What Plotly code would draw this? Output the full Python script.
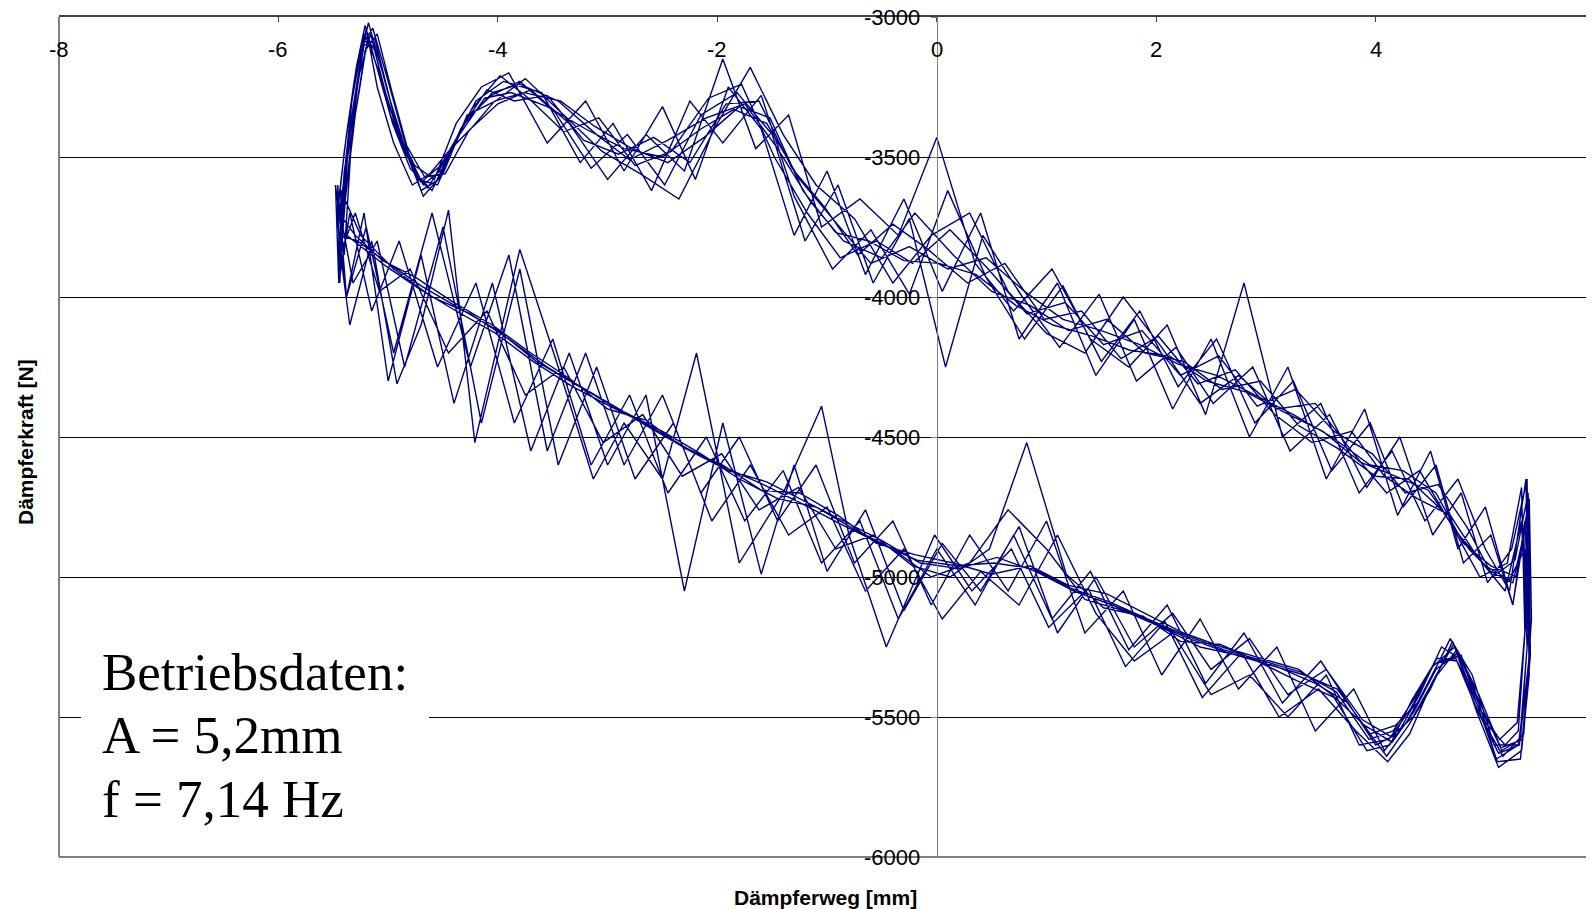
import plotly.graph_objects as go

# ---- data: damper displacement [mm] and damper force [N], cycle by cycle ----
weg_1 = [-5.45,-5.40,-5.30,-5.22,-5.12,-4.98,-4.85,-4.70,-4.52,-4.30,-4.05,-3.80,-3.45,-3.10,-2.80,-2.45,-2.10,-1.75,-1.45,-1.15,-0.85,-0.50,-0.20,0.15,0.50,0.85,1.20,1.55,1.90,2.25,2.60,2.95,3.30,3.65,4.00,4.30,4.60,4.85,5.05,5.25,5.35,5.38,5.32,
         5.15,4.95,4.75,4.55,4.35,4.15,3.90,3.60,3.30,2.95,2.60,2.25,1.90,1.55,1.20,0.85,0.50,0.15,-0.20,-0.55,-0.90,-1.25,-1.60,-1.95,-2.30,-2.65,-3.00,-3.35,-3.70,-4.05,-4.40,-4.75,-5.05,-5.30,-5.45]
kraft_1 = [-3850,-3550,-3300,-3060,-3120,-3350,-3480,-3590,-3530,-3380,-3270,-3240,-3300,-3420,-3510,-3440,-3360,-3310,-3470,-3660,-3800,-3860,-3700,-3850,-3980,-4030,-4120,-4080,-4200,-4230,-4330,-4300,-4460,-4540,-4640,-4650,-4760,-4900,-4980,-5020,-4850,-5250,-5580,
           -5620,-5450,-5270,-5330,-5480,-5590,-5530,-5420,-5330,-5290,-5250,-5200,-5130,-5060,-5030,-4960,-4990,-4950,-4920,-4880,-4780,-4700,-4690,-4600,-4540,-4440,-4400,-4290,-4200,-4100,-4020,-3930,-3870,-3780,-3700]

weg_2 = [-5.42,-5.35,-5.25,-5.18,-5.05,-4.90,-4.75,-4.60,-4.40,-4.20,-3.95,-3.60,-3.25,-2.95,-2.60,-2.25,-1.95,-1.60,-1.30,-0.95,-0.60,-0.25,0.10,0.45,0.80,1.15,1.50,1.85,2.20,2.55,2.90,3.25,3.60,3.95,4.25,4.55,4.80,5.05,5.25,5.38,5.40,5.30,
         5.10,4.90,4.70,4.50,4.30,4.10,3.80,3.50,3.15,2.80,2.45,2.10,1.75,1.40,1.05,0.70,0.35,0.00,-0.35,-0.70,-1.05,-1.40,-1.75,-2.10,-2.45,-2.80,-3.15,-3.50,-3.85,-4.20,-4.55,-4.90,-5.15,-5.35,-5.45]
kraft_2 = [-3700,-3400,-3150,-3020,-3200,-3420,-3560,-3620,-3450,-3300,-3230,-3270,-3520,-3380,-3620,-3300,-3450,-3280,-3640,-3900,-3760,-3990,-3620,-3930,-4150,-3960,-4230,-4050,-4320,-4150,-4450,-4300,-4620,-4450,-4750,-4600,-4950,-4850,-5100,-4780,-5300,-5600,
           -5650,-5400,-5230,-5400,-5530,-5640,-5480,-5300,-5450,-5200,-5380,-5100,-5260,-4980,-5150,-4850,-5100,-4900,-5150,-4800,-4950,-4620,-4800,-4500,-4700,-4350,-4600,-4150,-4450,-3950,-4250,-3800,-4050,-3700,-3950]

weg_3 = [-5.48,-5.40,-5.32,-5.22,-5.12,-4.98,-4.82,-4.68,-4.50,-4.28,-4.02,-3.75,-3.40,-3.05,-2.70,-2.35,-2.00,-1.70,-1.40,-1.10,-0.75,-0.40,-0.05,0.30,0.65,1.00,1.35,1.70,2.05,2.40,2.75,3.10,3.45,3.80,4.10,4.40,4.70,4.95,5.20,5.33,5.36,5.30,
         5.18,5.00,4.80,4.60,4.40,4.20,4.00,3.75,3.45,3.10,2.75,2.40,2.05,1.70,1.35,1.00,0.65,0.30,-0.05,-0.40,-0.75,-1.10,-1.45,-1.80,-2.15,-2.50,-2.85,-3.20,-3.55,-3.90,-4.25,-4.60,-4.95,-5.25,-5.43]
kraft_3 = [-3600,-3850,-3350,-3100,-3080,-3300,-3500,-3640,-3560,-3350,-3300,-3220,-3350,-3480,-3560,-3650,-3380,-3180,-3420,-3600,-3720,-3950,-3780,-3700,-3980,-4130,-4200,-4000,-4180,-4380,-4280,-4400,-4380,-4560,-4700,-4620,-4820,-5000,-4950,-4680,-5200,-5550,
           -5600,-5520,-5300,-5250,-5420,-5560,-5600,-5450,-5380,-5320,-5280,-5250,-5180,-5120,-5080,-4900,-4760,-4950,-5000,-4900,-4830,-4750,-4720,-4650,-4560,-4480,-4410,-4330,-4250,-4150,-4060,-4000,-3900,-3780,-3620]

weg_4 = [-5.44,-5.38,-5.28,-5.20,-5.10,-4.95,-4.78,-4.62,-4.45,-4.25,-4.00,-3.70,-3.35,-3.00,-2.65,-2.30,-1.95,-1.65,-1.35,-1.05,-0.70,-0.35,0.00,0.35,0.70,1.05,1.40,1.75,2.10,2.45,2.80,3.15,3.50,3.85,4.15,4.45,4.75,5.00,5.22,5.37,5.40,5.33,
         5.12,4.92,4.72,4.52,4.32,4.12,3.85,3.55,3.20,2.85,2.50,2.15,1.80,1.45,1.10,0.75,0.40,0.05,-0.30,-0.65,-1.00,-1.35,-1.70,-2.05,-2.40,-2.75,-3.10,-3.45,-3.80,-4.15,-4.50,-4.85,-5.10,-5.32,-5.46]
kraft_4 = [-3900,-3600,-3250,-3040,-3250,-3450,-3600,-3560,-3480,-3400,-3310,-3260,-3380,-3580,-3420,-3550,-3150,-3470,-3350,-3750,-3650,-3780,-3430,-3880,-4050,-3900,-4150,-4250,-4100,-4420,-3950,-4500,-4380,-4700,-4550,-4800,-4650,-4900,-5050,-4650,-5350,-5620,
           -5680,-5480,-5250,-5320,-5470,-5580,-5600,-5350,-5500,-5350,-5420,-5200,-5300,-5130,-4850,-5100,-4980,-5150,-4900,-5050,-4750,-4850,-4600,-4800,-4450,-4650,-4250,-4600,-3900,-4450,-3750,-4250,-3800,-3950,-3650]

weg_5 = [-5.46,-5.36,-5.26,-5.16,-5.02,-4.88,-4.72,-4.55,-4.35,-4.12,-3.88,-3.55,-3.20,-2.85,-2.50,-2.15,-1.85,-1.55,-1.25,-0.95,-0.60,-0.25,0.10,0.45,0.80,1.15,1.50,1.85,2.20,2.55,2.90,3.25,3.60,3.95,4.25,4.55,4.80,5.05,5.28,5.40,5.42,5.35,
         5.16,4.96,4.78,4.58,4.38,4.18,3.95,3.65,3.35,3.00,2.65,2.30,1.95,1.60,1.25,0.90,0.55,0.20,-0.15,-0.50,-0.85,-1.20,-1.55,-1.90,-2.25,-2.60,-2.95,-3.30,-3.65,-4.00,-4.35,-4.70,-5.00,-5.28,-5.44]
kraft_5 = [-3750,-3450,-3200,-3060,-3280,-3450,-3580,-3600,-3420,-3290,-3270,-3320,-3400,-3470,-3500,-3400,-3330,-3380,-3580,-3720,-3880,-3820,-3900,-3860,-3980,-4080,-4120,-4170,-4240,-4280,-4350,-4420,-4500,-4600,-4620,-4700,-4880,-4960,-5000,-4720,-5150,-5560,
           -5640,-5500,-5280,-5300,-5450,-5530,-5560,-5400,-5350,-5310,-5270,-5220,-5160,-5100,-5050,-4980,-4930,-4970,-4950,-4870,-4800,-4730,-4660,-4620,-4550,-4470,-4390,-4310,-4230,-4120,-4040,-3960,-3880,-3800,-3780]

weg_6 = [-5.43,-5.37,-5.27,-5.19,-5.08,-4.92,-4.76,-4.58,-4.38,-4.15,-3.90,-3.55,-3.20,-2.85,-2.50,-2.20,-1.90,-1.60,-1.30,-1.00,-0.65,-0.30,0.05,0.40,0.75,1.10,1.45,1.80,2.15,2.50,2.85,3.20,3.55,3.90,4.20,4.50,4.75,5.00,5.25,5.36,5.41,5.31,
         5.08,4.88,4.68,4.48,4.28,4.08,3.80,3.45,3.10,2.75,2.40,2.05,1.70,1.35,1.00,0.65,0.30,-0.05,-0.40,-0.75,-1.10,-1.45,-1.80,-2.15,-2.50,-2.85,-3.20,-3.55,-3.90,-4.25,-4.60,-4.95,-5.20,-5.38,-5.47]
kraft_6 = [-3800,-3500,-3280,-3080,-3200,-3400,-3530,-3580,-3380,-3250,-3200,-3450,-3300,-3550,-3320,-3580,-3250,-3400,-3780,-3550,-3920,-3650,-3980,-3700,-4150,-3950,-4280,-4080,-4400,-4150,-4500,-4250,-4650,-4400,-4780,-4550,-4900,-4750,-5100,-4800,-5250,-5600,
           -5600,-5350,-5220,-5380,-5520,-5620,-5400,-5550,-5250,-5400,-5150,-5350,-5050,-5200,-4800,-5050,-4850,-5100,-4800,-4950,-4600,-4800,-4500,-4700,-4350,-4600,-4200,-4550,-3850,-4250,-3700,-4200,-3750,-4000,-3700]

weg_7 = [-5.45,-5.38,-5.29,-5.21,-5.11,-4.96,-4.80,-4.64,-4.46,-4.24,-3.98,-3.72,-3.40,-3.08,-2.75,-2.42,-2.08,-1.78,-1.48,-1.18,-0.88,-0.55,-0.22,0.12,0.47,0.82,1.17,1.52,1.87,2.22,2.57,2.92,3.27,3.62,3.97,4.27,4.57,4.83,5.07,5.27,5.39,5.41,5.34,
         5.14,4.94,4.74,4.54,4.34,4.14,3.88,3.55,3.20,2.85,2.50,2.15,1.80,1.45,1.10,0.75,0.40,0.05,-0.30,-0.65,-1.00,-1.30,-1.60,-1.95,-2.30,-2.65,-3.00,-3.35,-3.70,-4.05,-4.40,-4.70,-5.00,-5.22,-5.38,-5.46]
kraft_7 = [-3650,-3420,-3180,-3030,-3170,-3380,-3540,-3610,-3500,-3330,-3210,-3290,-3410,-3360,-3530,-3480,-3290,-3240,-3500,-3700,-3860,-3800,-3880,-3760,-3900,-4060,-4020,-4170,-4120,-4280,-4210,-4390,-4330,-4480,-4560,-4700,-4670,-4820,-5000,-4940,-4700,-5280,-5580,
           -5610,-5420,-5260,-5360,-5500,-5570,-5510,-5330,-5420,-5220,-5330,-5130,-5250,-5000,-5200,-4820,-5050,-4880,-5120,-4760,-4980,-4600,-4990,-4450,-5050,-4350,-4600,-4200,-4550,-3950,-4380,-3850,-4300,-3700,-4000,-3600]

weg_8 = [-5.44,-5.41,-5.33,-5.24,-5.14,-5.00,-4.86,-4.70,-4.54,-4.34,-4.10,-3.85,-3.55,-3.22,-2.90,-2.58,-2.25,-1.92,-1.62,-1.32,-1.02,-0.72,-0.40,-0.08,0.28,0.62,0.98,1.32,1.68,2.02,2.38,2.72,3.08,3.42,3.78,4.08,4.38,4.68,4.93,5.18,5.33,5.37,5.29,
         5.13,4.93,4.73,4.53,4.33,4.13,3.92,3.62,3.28,2.92,2.58,2.22,1.88,1.52,1.18,0.82,0.48,0.12,-0.22,-0.58,-0.92,-1.26,-1.62,-1.96,-2.32,-2.68,-3.04,-3.40,-3.75,-4.10,-4.45,-4.80,-5.08,-5.30,-5.44]
kraft_8 = [-3950,-3600,-3300,-3100,-3040,-3230,-3430,-3620,-3580,-3400,-3260,-3300,-3280,-3440,-3490,-3430,-3520,-3310,-3300,-3540,-3680,-3850,-3740,-3830,-3950,-3880,-4080,-4050,-4220,-4140,-4310,-4260,-4420,-4520,-4480,-4640,-4720,-4780,-4930,-5050,-4800,-5150,-5520,
           -5580,-5460,-5290,-5310,-5440,-5600,-5620,-5430,-5370,-5300,-5240,-5230,-5140,-5110,-4990,-4520,-4900,-5000,-4960,-4850,-4900,-4680,-4760,-4560,-4640,-4420,-4520,-4250,-4350,-4050,-4200,-3900,-3980,-3700,-3850]

weg_9 = [-5.46,-5.40,-5.31,-5.23,-5.13,-4.99,-4.84,-4.68,-4.50,-4.30,-4.06,-3.80,-3.48,-3.15,-2.82,-2.48,-2.15,-1.82,-1.50,-1.20,-0.90,-0.58,-0.25,0.08,0.42,0.78,1.12,1.48,1.82,2.18,2.52,2.88,3.22,3.58,3.92,4.22,4.52,4.78,5.02,5.24,5.38,5.40,5.32,
         5.11,4.91,4.71,4.51,4.31,4.11,3.82,3.48,3.12,2.78,2.42,2.08,1.72,1.38,1.02,0.68,0.32,-0.02,-0.46,-0.80,-1.05,-1.40,-1.80,-2.19,-2.50,-2.85,-3.13,-3.45,-3.80,-4.21,-4.45,-4.70,-4.92,-5.15,-5.35,-5.45]
kraft_9 = [-3700,-3480,-3230,-3080,-3110,-3320,-3470,-3600,-3540,-3370,-3280,-3230,-3340,-3540,-3420,-3600,-3350,-3270,-3420,-3800,-3600,-3950,-3720,-4250,-3780,-4000,-4180,-3990,-4300,-4180,-4380,-4250,-4550,-4420,-4680,-4500,-4850,-4700,-5020,-4900,-4650,-5300,-5650,
           -5660,-5440,-5240,-5380,-5560,-5660,-5550,-5400,-5500,-5270,-5430,-5160,-5320,-5040,-5180,-4900,-5050,-4850,-5250,-4850,-4390,-4700,-4950,-4200,-4650,-4450,-4650,-4250,-3830,-4520,-3690,-4100,-4310,-3800,-4100,-3800]

weg_10 = [-5.45,-5.39,-5.30,-5.21,-5.10,-4.97,-4.83,-4.67,-4.48,-4.27,-4.03,-3.76,-3.43,-3.12,-2.78,-2.45,-2.12,-1.80,-1.52,-1.22,-0.92,-0.62,-0.30,0.02,0.36,0.72,1.06,1.42,1.76,2.12,2.46,2.82,3.16,3.52,3.86,4.18,4.48,4.76,5.00,5.22,5.36,5.39,5.31,
          5.12,4.92,4.74,4.56,4.36,4.16,3.94,3.64,3.32,2.98,2.62,2.28,1.92,1.58,1.22,0.88,0.52,0.18,-0.18,-0.52,-0.88,-1.22,-1.58,-1.92,-2.28,-2.62,-2.98,-3.32,-3.68,-4.02,-4.38,-4.72,-5.02,-5.28,-5.44]
kraft_10 = [-3900,-3650,-3350,-3120,-3060,-3260,-3460,-3570,-3560,-3410,-3300,-3270,-3300,-3390,-3470,-3520,-3430,-3320,-3360,-3620,-3770,-3800,-3870,-3880,-3920,-4030,-4100,-4140,-4190,-4210,-4300,-4340,-4410,-4480,-4590,-4640,-4690,-4850,-4960,-5010,-4900,-5200,-5600,
            -5630,-5470,-5300,-5290,-5430,-5550,-5580,-5410,-5340,-5300,-5260,-5210,-5150,-5090,-5040,-4970,-4950,-4960,-4940,-4880,-4810,-4740,-4670,-4610,-4540,-4460,-4390,-4320,-4230,-4130,-4050,-3970,-3890,-3810,-3760]

x_ticks = [-8, -6, -4, -2, 0, 2, 4, 6]
x_ticktext = ["-8", "-6", "-4", "-2", "0", "2", "4", "6"]
y_ticks = [-6000, -5500, -5000, -4500, -4000, -3500, -3000]
y_ticktext = ["-6000", "-5500", "-5000", "-4500", "-4000", "-3500", "-3000"]

x_title = "Dämpferweg [mm]"
y_title = "Dämpferkraft [N]"
info_lines = ["Betriebsdaten:", "A = 5,2mm", "f = 7,14 Hz"]

# ---- figure ----
all_x = weg_1 + weg_2 + weg_3 + weg_4 + weg_5 + weg_6 + weg_7 + weg_8 + weg_9 + weg_10
all_y = kraft_1 + kraft_2 + kraft_3 + kraft_4 + kraft_5 + kraft_6 + kraft_7 + kraft_8 + kraft_9 + kraft_10

OFF = 8                      # page body margin in the browser
W, H = 1594 - OFF, 909 - OFF
ML, MR, MT, MB = 51, 0, 9, 52
X_MIN, X_MAX = -8, 5.99
plot_w = W - ML - MR
plot_h = H - MT - MB


def px(xs):  # screenshot x -> paper x
    return (xs - OFF - ML) / plot_w


def py(ys):  # screenshot y -> paper y
    return (H - MB - (ys - OFF)) / plot_h


def xdata_to_paper(v):
    return (v - X_MIN) / (X_MAX - X_MIN)


fig = go.Figure()
fig.add_trace(go.Scatter(x=all_x, y=all_y, mode="lines",
                         line=dict(color="#000080", width=1.4),
                         showlegend=False, hoverinfo="skip"))

fig.update_layout(
    width=W, height=H,
    margin=dict(l=ML, r=MR, t=MT, b=MB, pad=0),
    paper_bgcolor="white", plot_bgcolor="white",
    showlegend=False,
    xaxis=dict(range=[X_MIN, X_MAX], side="top", tickvals=x_ticks,
               ticks="inside", ticklen=5, tickcolor="#404040", showticklabels=False,
               showgrid=False, zeroline=False,
               showline=True, linecolor="#404040", linewidth=2),
    yaxis=dict(range=[-6000, -3000], tickvals=y_ticks,
               anchor="free", position=xdata_to_paper(0), side="left",
               ticks="outside", ticklen=6, tickcolor="#808080", showticklabels=False,
               showgrid=True, gridcolor="#000000", gridwidth=1,
               zeroline=False, showline=True, linecolor="#808080", linewidth=1),
)

# plot area border (left & bottom gray)
fig.add_shape(type="line", xref="paper", yref="paper", x0=0, x1=0, y0=0, y1=1,
              line=dict(color="#808080", width=2), layer="above")
fig.add_shape(type="line", xref="paper", yref="paper", x0=0, x1=1, y0=0, y1=0,
              line=dict(color="#808080", width=2), layer="above")

tick_font = dict(family="Liberation Sans, Arial, sans-serif", size=22, color="#000000")
for v, t in zip(x_ticks, x_ticktext):
    fig.add_annotation(text=t, xref="paper", yref="paper", x=xdata_to_paper(v), y=py(50),
                       xanchor="center", yanchor="middle", showarrow=False, font=tick_font)
for v, t in zip(y_ticks, y_ticktext):
    fig.add_annotation(text=t, xref="x", yref="y", x=0, y=v, xshift=-15,
                       xanchor="right", yanchor="middle", showarrow=False, font=tick_font)

# text box
fig.add_shape(type="rect", xref="paper", yref="paper",
              x0=px(81), x1=px(429), y0=py(830), y1=py(640),
              fillcolor="white", line=dict(width=0), layer="above")
for txt, ys in zip(info_lines, [672, 735, 799]):
    fig.add_annotation(text=txt, xref="paper", yref="paper", x=px(100), y=py(ys),
                       xanchor="left", yanchor="middle", showarrow=False,
                       font=dict(family="Liberation Serif, Times New Roman, serif", size=53, color="#000000"))

# axis titles
title_font = dict(family="Liberation Sans, Arial, sans-serif", size=21, color="#000000")
fig.add_annotation(text="<b>" + x_title + "</b>", xref="paper", yref="paper",
                   x=px(825), y=py(897), xanchor="center", yanchor="middle",
                   showarrow=False, font=title_font)
fig.add_annotation(text="<b>" + y_title + "</b>", xref="paper", yref="paper",
                   x=px(25), y=py(442), xanchor="center", yanchor="middle",
                   textangle=-90, showarrow=False, font=title_font)

fig.write_html("out.html")
